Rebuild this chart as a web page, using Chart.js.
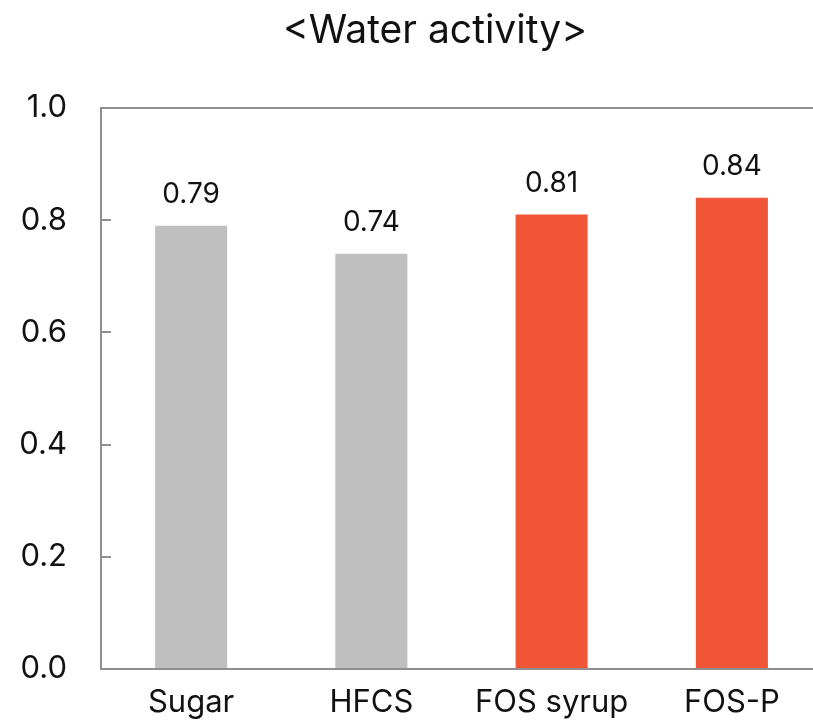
<!DOCTYPE html>
<html>
<head>
<meta charset="utf-8">
<script src="https://cdn.jsdelivr.net/npm/chart.js@4.4.1/dist/chart.umd.min.js"></script>
<style>
  html, body { margin: 0; padding: 0; overflow: hidden; background: #fff; }
  #wrap { width: 870px; height: 723px; }
</style>
</head>
<body>
<div id="wrap"><canvas id="c" width="870" height="723"></canvas></div>
<script>
const categories = ['Sugar', 'HFCS', 'FOS syrup', 'FOS-P'];
const waterActivity = [0.79, 0.74, 0.81, 0.84];
const valueLabels = ['0.79', '0.74', '0.81', '0.84'];
const barColors = ['#bfbfbf', '#bfbfbf', '#f05537', '#f05537'];
const yTicks = [0, 0.2, 0.4, 0.6, 0.8, 1.0];
const chartTitle = '<Water activity>';

const FONT = 'Inter, "Noto Sans", sans-serif';
const AXIS = '#8f8f8f';

// heading centred across the whole canvas
const heading = {
  id: 'heading',
  afterDraw(chart) {
    const ctx = chart.ctx;
    ctx.save();
    ctx.fillStyle = '#111';
    ctx.font = '39px ' + FONT;
    ctx.textAlign = 'center';
    ctx.textBaseline = 'middle';
    ctx.fillText(chartTitle, chart.width / 2, 31);
    ctx.restore();
  }
};

// value text above each bar
const barValues = {
  id: 'barValues',
  afterDatasetsDraw(chart) {
    const ctx = chart.ctx;
    const meta = chart.getDatasetMeta(0);
    ctx.save();
    ctx.fillStyle = '#111';
    ctx.font = '28px ' + FONT;
    ctx.textAlign = 'center';
    ctx.textBaseline = 'middle';
    meta.data.forEach((bar, i) => {
      ctx.fillText(valueLabels[i], bar.x, bar.y - 31);
    });
    ctx.restore();
  }
};

// short tick marks pointing into the plot from the y axis
const innerTicks = {
  id: 'innerTicks',
  afterDraw(chart) {
    const ctx = chart.ctx;
    const y = chart.scales.y;
    ctx.save();
    ctx.strokeStyle = AXIS;
    ctx.lineWidth = 2;
    yTicks.slice(1, -1).forEach(v => {
      const py = Math.round(y.getPixelForValue(v));
      ctx.beginPath();
      ctx.moveTo(y.right, py);
      ctx.lineTo(y.right + 10, py);
      ctx.stroke();
    });
    ctx.restore();
  }
};

new Chart(document.getElementById('c'), {
  type: 'bar',
  data: {
    labels: categories,
    datasets: [{
      data: waterActivity,
      backgroundColor: barColors,
      borderWidth: 0,
      categoryPercentage: 1,
      barPercentage: 0.4
    }]
  },
  options: {
    responsive: false,
    animation: false,
    layout: { padding: { left: 0, right: 48, top: 108, bottom: 0 } },
    plugins: {
      legend: { display: false },
      tooltip: { enabled: false },
      title: { display: false }
    },
    scales: {
      x: {
        grid: { display: false, drawTicks: false },
        border: { display: true, color: AXIS, width: 2 },
        ticks: { color: '#111', font: { family: FONT, size: 31 }, padding: 15 },
        afterFit(s) { s.height = 54; }
      },
      y: {
        min: 0, max: 1,
        afterBuildTicks(s) { s.ticks = yTicks.map(v => ({ value: v })); },
        grid: {
          drawTicks: false,
          color: ctx => (ctx.tick && ctx.tick.value === 1 ? AXIS : 'rgba(0,0,0,0)'),
          lineWidth: 2
        },
        border: { display: true, color: AXIS, width: 2 },
        ticks: {
          color: '#111',
          font: { family: FONT, size: 31 },
          padding: 34,
          callback: v => Number(v).toFixed(1)
        },
        afterFit(s) { s.width = 101; }
      }
    }
  },
  plugins: [heading, barValues, innerTicks]
});
</script>
</body>
</html>
